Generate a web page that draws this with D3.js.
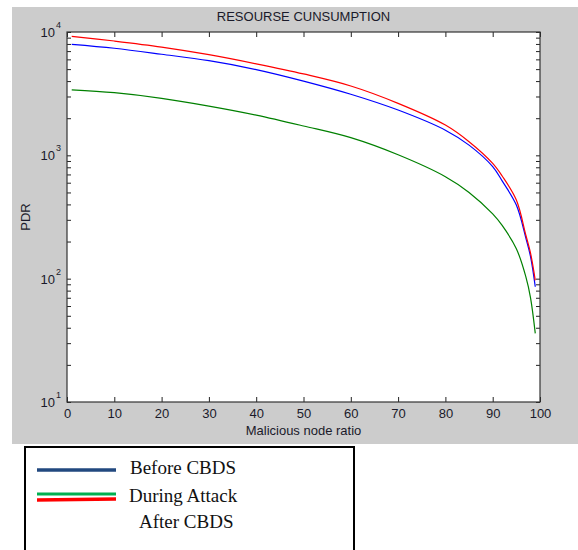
<!DOCTYPE html>
<html>
<head>
<meta charset="utf-8">
<script src="https://cdn.jsdelivr.net/npm/d3@7"></script>
<style>
  body { margin: 0; background: #fff; }
  svg { display: block; }
</style>
</head>
<body>
<div id="chart"></div>
<script>
// Values (log scale PDR vs malicious node ratio)
const ratio = [1, 10, 20, 30, 40, 50, 60, 70, 80, 85, 90, 92, 95, 97, 98, 99];
const beforeCBDS = [7940, 7380, 6600, 5850, 4960, 4000, 3130, 2330, 1600, 1210, 810, 620, 395, 214, 151, 86];
const duringAttack = [3400, 3220, 2900, 2510, 2120, 1730, 1390, 1010, 671, 500, 335, 270, 175, 104, 70, 36];
const afterCBDS = [9230, 8450, 7550, 6550, 5520, 4570, 3650, 2640, 1760, 1290, 860, 680, 434, 226, 161, 97];

const xTicks = [0, 10, 20, 30, 40, 50, 60, 70, 80, 90, 100];
const yDecades = [10, 100, 1000, 10000];
const legendNames = ['Before CBDS', 'During Attack', 'After CBDS'];

const width = 578, height = 550;
const margin = { top: 32, right: 38, bottom: 148, left: 67 };

const svg = d3.select('#chart').append('svg')
    .attr('width', width)
    .attr('height', height);

// MATLAB-style grey figure background
svg.append('rect')
    .attr('x', 12).attr('y', 7)
    .attr('width', width - 12).attr('height', 437)
    .attr('fill', '#cccccc');

const x = d3.scaleLinear()
    .domain([0, 100])
    .range([margin.left, width - margin.right]);

const y = d3.scaleLog()
    .domain([10, 10000])
    .range([height - margin.bottom, margin.top]);

// plot area
svg.append('rect')
    .attr('x', x(0)).attr('y', y(10000))
    .attr('width', x(100) - x(0)).attr('height', y(10) - y(10000))
    .attr('fill', '#fff');

// minor + major ticks on the log axis
const yTickVals = [];
yDecades.forEach((d, i) => {
    yTickVals.push(d);
    if (i < yDecades.length - 1) {
        for (let k = 2; k <= 9; k++) yTickVals.push(d * k);
    }
});

const axisFont = 'Arial, "Liberation Sans", sans-serif';

function styleAxis(g) {
    g.select('.domain').remove();
    g.selectAll('line').attr('stroke', '#222');
    g.selectAll('text')
        .style('font-family', axisFont)
        .style('font-size', '13px')
        .attr('fill', '#1a1a2a');
}

svg.append('g')
    .attr('transform', `translate(0,${y(10)})`)
    .call(d3.axisBottom(x).tickValues(xTicks).tickSize(-5).tickPadding(7).tickFormat(d3.format('d')))
    .call(styleAxis);

svg.append('g')
    .attr('transform', `translate(0,${y(10000)})`)
    .call(d3.axisTop(x).tickValues(xTicks).tickSize(-5).tickFormat(''))
    .call(styleAxis);

svg.append('g')
    .attr('transform', `translate(${x(0)},0)`)
    .call(d3.axisLeft(y).tickValues(yTickVals).tickSize(-4).tickFormat(''))
    .call(styleAxis);

svg.append('g')
    .attr('transform', `translate(${x(100)},0)`)
    .call(d3.axisRight(y).tickValues(yTickVals).tickSize(-4).tickFormat(''))
    .call(styleAxis);

// 10^n labels
const yLab = svg.append('g')
    .style('font-family', axisFont)
    .attr('fill', '#1a1a2a');
yLab.selectAll('text.base').data(yDecades).join('text')
    .attr('class', 'base')
    .attr('x', x(0) - 12)
    .attr('y', d => y(d) + 5)
    .attr('text-anchor', 'end')
    .style('font-size', '13px')
    .text('10');
yLab.selectAll('text.exp').data(yDecades).join('text')
    .attr('class', 'exp')
    .attr('x', x(0) - 11)
    .attr('y', d => y(d) - 4)
    .style('font-size', '9px')
    .text(d => Math.round(Math.log10(d)));

// box
svg.append('rect')
    .attr('x', x(0)).attr('y', y(10000))
    .attr('width', x(100) - x(0)).attr('height', y(10) - y(10000))
    .attr('fill', 'none')
    .attr('stroke', '#333')
    .attr('stroke-width', 1.2);

// series
const series = [
    { values: beforeCBDS, color: '#0000ff' },
    { values: duringAttack, color: '#008000' },
    { values: afterCBDS, color: '#ff0000' }
];

const line = d3.line()
    .x(d => x(d[0]))
    .y(d => y(d[1]))
    .curve(d3.curveCatmullRom.alpha(0.5));

series.forEach(s => {
    svg.append('path')
        .datum(ratio.map((r, i) => [r, s.values[i]]))
        .attr('d', line)
        .attr('fill', 'none')
        .attr('stroke', s.color)
        .attr('stroke-width', 1.2);
});

// titles
svg.append('text')
    .attr('x', (x(0) + x(100)) / 2)
    .attr('y', 21)
    .attr('text-anchor', 'middle')
    .style('font-family', axisFont)
    .style('font-size', '13px')
    .attr('fill', '#1a1a2a')
    .text('RESOURSE CUNSUMPTION');

svg.append('text')
    .attr('x', (x(0) + x(100)) / 2)
    .attr('y', 435)
    .attr('text-anchor', 'middle')
    .style('font-family', axisFont)
    .style('font-size', '13px')
    .attr('fill', '#1a1a2a')
    .text('Malicious node ratio');

svg.append('text')
    .attr('transform', `translate(30,${(y(10) + y(10000)) / 2}) rotate(-90)`)
    .attr('text-anchor', 'middle')
    .style('font-family', axisFont)
    .style('font-size', '13px')
    .attr('fill', '#1a1a2a')
    .text('PDR');

// legend box below the figure
const legend = svg.append('g');
legend.append('rect')
    .attr('x', 25).attr('y', 447)
    .attr('width', 329).attr('height', 120)
    .attr('fill', '#fff')
    .attr('stroke', '#000')
    .attr('stroke-width', 2);

legend.append('line')
    .attr('x1', 37).attr('x2', 116).attr('y1', 470).attr('y2', 470)
    .attr('stroke', '#22497f').attr('stroke-width', 3.5);
legend.append('line')
    .attr('x1', 37).attr('x2', 116).attr('y1', 494).attr('y2', 494)
    .attr('stroke', '#00b050').attr('stroke-width', 3);
legend.append('line')
    .attr('x1', 37).attr('x2', 116).attr('y1', 500).attr('y2', 499)
    .attr('stroke', '#ff0000').attr('stroke-width', 3.5);

const legendX = [130, 129, 139];
const legendY = [474, 502, 528];
legend.selectAll('text').data(legendNames).join('text')
    .attr('x', (d, i) => legendX[i])
    .attr('y', (d, i) => legendY[i])
    .style('font-family', '"Times New Roman", "Liberation Serif", serif')
    .style('font-size', '19px')
    .attr('fill', '#111')
    .text(d => d);
</script>
</body>
</html>
